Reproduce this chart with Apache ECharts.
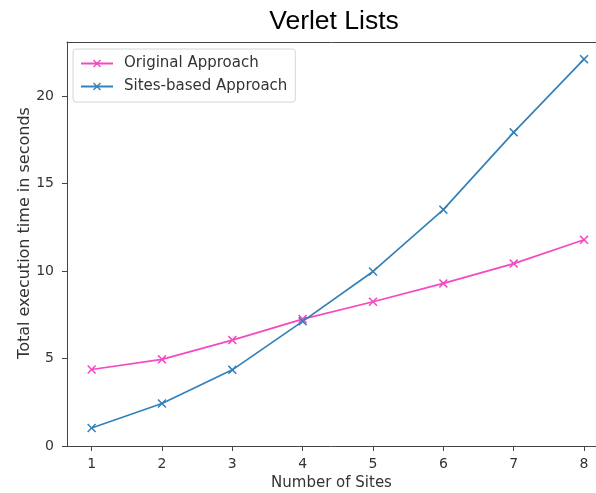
<!DOCTYPE html>
<html>
<head>
<meta charset="utf-8">
<script src="https://cdn.jsdelivr.net/npm/echarts@6/dist/echarts.min.js"></script>
<style>
html,body{margin:0;padding:0;background:#fff;}
#c{width:596px;height:493px;}
</style>
</head>
<body>
<div id="c"></div>
<script>
const sites = [1, 2, 3, 4, 5, 6, 7, 8];
const originalApproach = [4.37, 4.95, 6.05, 7.25, 8.24, 9.29, 10.42, 11.78];
const sitesBasedApproach = [1.03, 2.43, 4.35, 7.12, 9.97, 13.5, 17.92, 22.1];
const xTicks = [1, 2, 3, 4, 5, 6, 7, 8];
const yTicks = [0, 5, 10, 15, 20];

const xMark = 'path://M0,1.2 L1.2,0 L5,3.8 L8.8,0 L10,1.2 L6.2,5 L10,8.8 L8.8,10 L5,6.2 L1.2,10 L0,8.8 L3.8,5 Z';
const pink = '#f548c2';
const blue = '#3480b8';
const font = 'DejaVu Sans';

const chart = echarts.init(document.getElementById('c'), null, {renderer: 'canvas'});
chart.setOption({
  animation: false,
  backgroundColor: '#fff',
  title: {
    text: 'Verlet Lists',
    left: 329, top: 3, textAlign: 'center',
    textStyle: {fontFamily: 'Liberation Sans', fontSize: 26.5, fontWeight: 'normal', color: '#000'}
  },
  legend: {
    left: 73, top: 49, orient: 'vertical',
    itemWidth: 32, itemHeight: 10, itemGap: 8,
    padding: [7, 8, 8, 7],
    borderColor: '#d6d6d6', borderWidth: 1, borderRadius: 3,
    backgroundColor: '#fff',
    textStyle: {fontFamily: font, fontSize: 15, color: '#333', padding: [0, 0, 0, 6]},
    data: ['Original Approach', 'Sites-based Approach']
  },
  grid: {left: 67, right: 0, top: 42, bottom: 47, containLabel: false, outerBoundsMode: 'none'},
  xAxis: [{
    type: 'value', min: 0.65, max: 8.17,
    name: 'Number of Sites', nameLocation: 'middle', nameGap: 30,
    nameTextStyle: {fontFamily: font, fontSize: 15, color: '#333'},
    axisLine: {show: true, lineStyle: {color: '#444', width: 1}},
    axisTick: {show: true, length: 5, customValues: xTicks, lineStyle: {color: '#444'}},
    axisLabel: {customValues: xTicks, fontFamily: font, fontSize: 14, color: '#333', margin: 11},
    splitLine: {show: false}
  }, {
    type: 'value', position: 'top', min: 0.65, max: 8.17,
    axisLine: {show: true, lineStyle: {color: '#444', width: 1}},
    axisTick: {show: false}, axisLabel: {show: false}, splitLine: {show: false}
  }],
  yAxis: {
    type: 'value', min: 0, max: 23.08,
    name: 'Total execution time in seconds', nameLocation: 'middle', nameGap: 34,
    nameMoveOverlap: false,
    nameTextStyle: {fontFamily: font, fontSize: 16, color: '#333', padding: [0, 0, 0, 22]},
    axisLine: {show: true, lineStyle: {color: '#444', width: 1}},
    axisTick: {show: true, length: 5, customValues: yTicks, lineStyle: {color: '#444'}},
    axisLabel: {customValues: yTicks, fontFamily: font, fontSize: 14, color: '#333', margin: 13},
    splitLine: {show: false}
  },
  series: [{
    name: 'Original Approach', type: 'line',
    data: sites.map((s, i) => [s, originalApproach[i]]),
    symbol: xMark, symbolSize: 9, showSymbol: true,
    lineStyle: {color: pink, width: 1.7},
    itemStyle: {color: pink}
  }, {
    name: 'Sites-based Approach', type: 'line',
    data: sites.map((s, i) => [s, sitesBasedApproach[i]]),
    symbol: xMark, symbolSize: 9, showSymbol: true,
    lineStyle: {color: blue, width: 1.7},
    itemStyle: {color: blue}
  }]
});
</script>
</body>
</html>
